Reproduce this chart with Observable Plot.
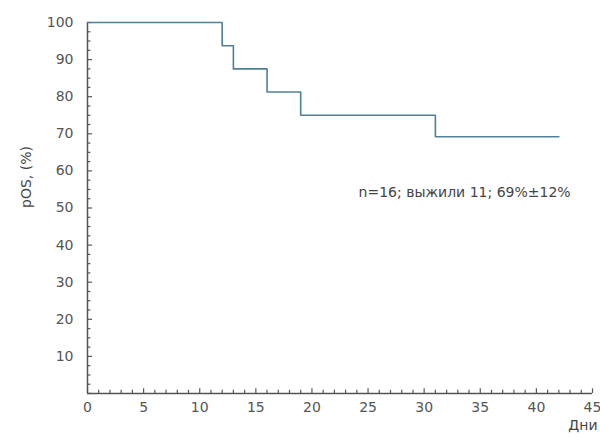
<!DOCTYPE html>
<html><head><meta charset="utf-8">
<script src="https://cdn.jsdelivr.net/npm/d3@7"></script>
<script src="https://cdn.jsdelivr.net/npm/@observablehq/plot@0.6"></script>
<style>
body{margin:0;background:#fff;}
</style></head><body><div id="chart"></div>
<script>
const days = [0, 12, 13, 16, 19, 31, 42];
const survival = [100, 93.75, 87.5, 81.25, 75, 69.2, 69.2];
const xTickLabels = [0, 5, 10, 15, 20, 25, 30, 35, 40, 45];
const yTickLabels = [10, 20, 30, 40, 50, 60, 70, 80, 90, 100];
const xMinorTicks = d3.range(0, 46, 1);
const yMinorTicks = d3.range(0, 101, 2.5);
const annotation = "n=16; выжили 11; 69%±12%";

const curve = days.map((d, i) => ({day: d, s: survival[i]}));
const axisColor = "#555";
const font = "DejaVu Sans, sans-serif";

const chart = Plot.plot({
  width: 600, height: 437,
  marginLeft: 87, marginRight: 8, marginTop: 22, marginBottom: 44,
  style: {fontFamily: font, background: "#fff"},
  x: {domain: [0, 45]},
  y: {domain: [0, 100]},
  marks: [
    Plot.ruleX(xMinorTicks, {x: d => d, y1: 0, y2: d => d % 5 === 0 ? 1.25 : 0.85, stroke: axisColor, strokeWidth: 1.2}),
    Plot.ruleY(yMinorTicks, {y: d => d, x1: 0, x2: d => d % 10 === 0 ? 0.45 : 0.3, stroke: axisColor, strokeWidth: 1.2}),
    Plot.ruleY([0], {x1: 0, x2: 45, stroke: axisColor, strokeWidth: 1.5}),
    Plot.ruleX([0], {y1: 0, y2: 100, stroke: axisColor, strokeWidth: 1.5}),
    Plot.axisX(xTickLabels, {tickSize: 0, tickPadding: 9, fontSize: 14, fill: "#555", label: null}),
    Plot.axisY(yTickLabels, {tickSize: 0, tickPadding: 14, fontSize: 14, fill: "#555", label: null}),
    Plot.line(curve, {x: "day", y: "s", curve: "step-after", stroke: "#4e8098", strokeWidth: 1.6}),
    Plot.text([annotation], {x: 33.6, y: 54.1, text: d => d, fontSize: 14, fill: "#444"}),
    Plot.text(["pOS, (%)"], {frameAnchor: "left", rotate: -90, dx: -61, text: d => d, fontSize: 14, fill: "#444"}),
    Plot.text(["Дни"], {frameAnchor: "bottom-right", textAnchor: "end", dx: 5, dy: 36, text: d => d, fontSize: 14, fill: "#444"})
  ]
});
document.getElementById("chart").appendChild(chart);
</script></body></html>
